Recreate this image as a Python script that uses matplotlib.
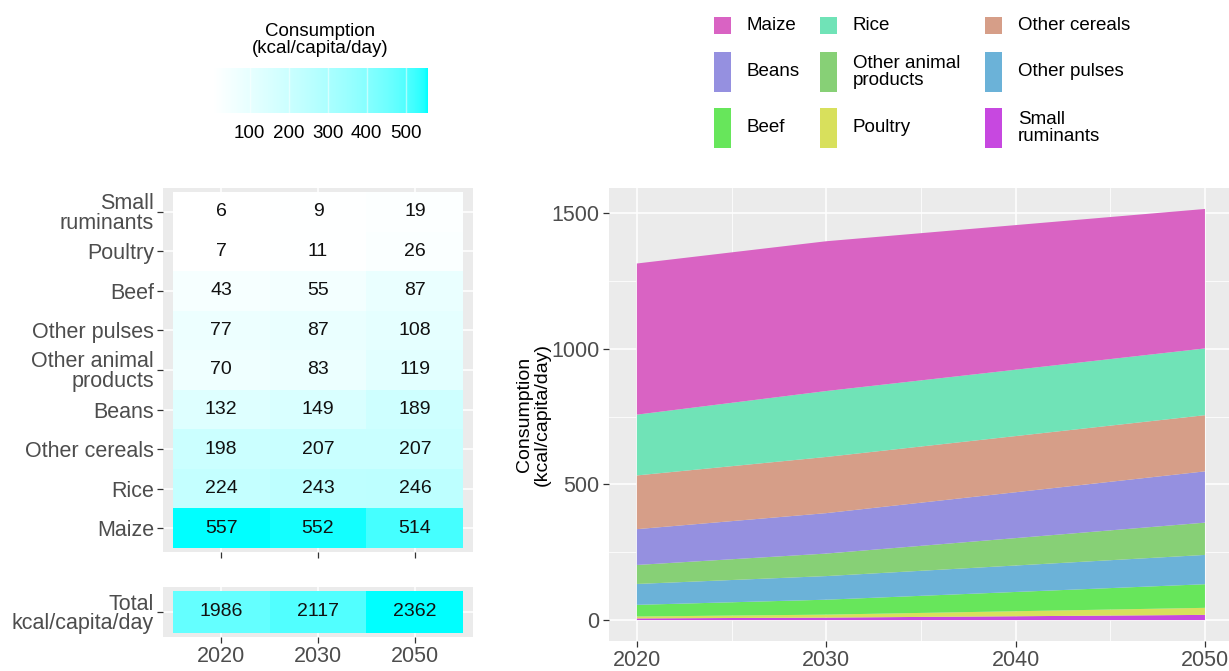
import numpy as np
import matplotlib
matplotlib.use("Agg")
import matplotlib.pyplot as plt
from matplotlib.colors import ListedColormap, Normalize, to_rgb
from matplotlib.cm import ScalarMappable
from matplotlib.patches import Rectangle

plt.rcParams["font.family"] = ["Liberation Sans", "DejaVu Sans"]

# ---- data -------------------------------------------------------------
years = [2020, 2030, 2050]
crops = ["Small\nruminants", "Poultry", "Beef", "Other pulses",
         "Other animal\nproducts", "Beans", "Other cereals", "Rice", "Maize"]
kcal_2020 = [6, 7, 43, 77, 70, 132, 198, 224, 557]
kcal_2030 = [9, 11, 55, 87, 83, 149, 207, 243, 552]
kcal_2050 = [19, 26, 87, 108, 119, 189, 207, 246, 514]
totals = [1986, 2117, 2362]

# stacked area: bottom -> top
area_names = ["Small ruminants", "Poultry", "Beef", "Other pulses",
              "Other animal products", "Beans", "Other cereals", "Rice", "Maize"]
area_colors = ["#C748E0", "#D8E05C", "#67E65B", "#6BB2D8",
               "#87D076", "#9590E0", "#D69E88", "#70E3B7", "#D963C3"]

# legend layout (row-major, 3 columns)
legend_labels = ["Maize", "Rice", "Other cereals",
                 "Beans", "Other animal\nproducts", "Other pulses",
                 "Beef", "Poultry", "Small\nruminants"]

W, H = 1229, 671
GREY_PANEL = "#EBEBEB"
TICK_TXT = "#4D4D4D"
TICK_COL = "#333333"
FS = 13.5        # legend / cell text
TICK_FS = 15.5   # axis tick labels

# ---- white -> cyan gradient, interpolated in Lab -----------------------
M = np.array([[0.4124, 0.3576, 0.1805],
              [0.2126, 0.7152, 0.0722],
              [0.0193, 0.1192, 0.9505]])
WHITE_PT = np.array([0.95047, 1.0, 1.08883])


def srgb_to_lab(rgb):
    c = np.asarray(rgb, float)
    lin = np.where(c <= 0.04045, c / 12.92, ((c + 0.055) / 1.055) ** 2.4)
    xyz = M @ lin / WHITE_PT
    f = np.where(xyz > 0.008856, np.cbrt(xyz), 7.787 * xyz + 16 / 116)
    return np.array([116 * f[1] - 16, 500 * (f[0] - f[1]), 200 * (f[1] - f[2])])


def lab_to_srgb(lab):
    L, a, b = lab
    fy = (L + 16) / 116
    f = np.array([fy + a / 500, fy, fy - b / 200])
    xyz = np.where(f ** 3 > 0.008856, f ** 3, (f - 16 / 116) / 7.787) * WHITE_PT
    lin = np.clip(np.linalg.inv(M) @ xyz, 0, 1)
    c = np.where(lin <= 0.0031308, 12.92 * lin, 1.055 * lin ** (1 / 2.4) - 0.055)
    return np.clip(c, 0, 1)


lo, hi = srgb_to_lab(to_rgb("white")), srgb_to_lab(to_rgb("cyan"))
cyan_cmap = ListedColormap([lab_to_srgb(lo + t * (hi - lo))
                            for t in np.linspace(0, 1, 256)])

fig = plt.figure(figsize=(W / 100, H / 100), dpi=100)


def px_axes(x0, y0, x1, y1):
    """axes from pixel box (top-left origin)"""
    return fig.add_axes([x0 / W, 1 - y1 / H, (x1 - x0) / W, (y1 - y0) / H])


def style_ticks(ax):
    ax.tick_params(colors=TICK_COL, labelcolor=TICK_TXT, labelsize=TICK_FS,
                   length=4.5, width=0.9, pad=2)
    for s in ax.spines.values():
        s.set_visible(False)


# ---- heatmap by crop ----------------------------------------------------
Z = np.column_stack([kcal_2020, kcal_2030, kcal_2050])
heat_norm = Normalize(Z.min(), Z.max())
ax_h = px_axes(163, 188, 473, 552)
ax_h.set_facecolor(GREY_PANEL)
ax_h.set_axisbelow(True)
ax_h.grid(color="white", lw=1.1)
ax_h.pcolormesh(np.arange(4) - 0.5, np.arange(len(crops) + 1) - 0.5, Z,
                cmap=cyan_cmap, norm=heat_norm)
for i in range(len(crops)):
    for j in range(len(years)):
        ax_h.text(j, i, str(Z[i, j]), ha="center", va="center",
                  fontsize=FS + 0.5, color="#111111")
ax_h.set_xlim(-0.6, 2.6)
ax_h.set_ylim(len(crops) - 0.4, -0.6)
ax_h.set_xticks(range(len(years)))
ax_h.set_xticklabels([])
ax_h.set_yticks(range(len(crops)))
ax_h.set_yticklabels(crops, linespacing=0.9)
style_ticks(ax_h)

# ---- totals row ---------------------------------------------------------
tot = np.array([totals])
ax_t = px_axes(163, 587, 473, 637)
ax_t.set_facecolor(GREY_PANEL)
ax_t.set_axisbelow(True)
ax_t.grid(color="white", lw=1.1)
ax_t.pcolormesh(np.arange(4) - 0.5, [-0.5, 0.5], tot,
                cmap=cyan_cmap, norm=Normalize(0, max(totals)))
for j, v in enumerate(totals):
    ax_t.text(j, 0, str(v), ha="center", va="center", fontsize=FS + 0.5,
              color="#111111")
ax_t.set_xlim(-0.6, 2.6)
ax_t.set_ylim(-0.6, 0.6)
ax_t.set_xticks(range(len(years)))
ax_t.set_xticklabels([str(y) for y in years])
ax_t.set_yticks([0])
ax_t.set_yticklabels(["Total\nkcal/capita/day"], linespacing=0.9)
style_ticks(ax_t)

# ---- colourbar legend -----------------------------------------------------
cax = px_axes(213, 68, 428, 113)
cb = fig.colorbar(ScalarMappable(norm=heat_norm, cmap=cyan_cmap), cax=cax,
                  orientation="horizontal")
cb.outline.set_visible(False)
cb.set_ticks([100, 200, 300, 400, 500])
cax.tick_params(length=0, labelsize=FS, labelcolor="black", pad=9)
for t in [100, 200, 300, 400, 500]:
    cax.axvline(t, color="white", lw=1, alpha=0.5)
fig.text(320 / W, 1 - 40 / H, "Consumption\n(kcal/capita/day)", ha="center",
         va="center", fontsize=FS, linespacing=1.05)

# ---- stacked area -------------------------------------------------------
by_year = {n: (a, b, c) for n, a, b, c in
           zip([c.replace("\n", " ") for c in crops], kcal_2020, kcal_2030, kcal_2050)}
stack = [by_year[n] for n in area_names]
ax_a = px_axes(608.5, 188.4, W, 640.6)
ax_a.set_facecolor(GREY_PANEL)
ax_a.set_axisbelow(True)
ax_a.stackplot(years, stack, colors=area_colors, lw=0)
ax_a.set_xlim(2018.5, 2051.27)
ax_a.set_ylim(-75.75, 1590.75)
ax_a.set_xticks([2020, 2030, 2040, 2050])
ax_a.set_xticks([2025, 2035, 2045], minor=True)
ax_a.set_yticks([0, 500, 1000, 1500])
ax_a.set_yticks([250, 750, 1250], minor=True)
ax_a.grid(which="major", color="white", lw=1.1)
ax_a.grid(which="minor", color="white", lw=0.55)
style_ticks(ax_a)
ax_a.tick_params(which="minor", length=0)
fig.text(533 / W, 1 - 414 / H, "Consumption\n(kcal/capita/day)", rotation=90,
         ha="center", va="center", fontsize=FS + 0.5, linespacing=1.05)

# ---- area legend (drawn in pixel space) -------------------------------------
ax_l = fig.add_axes([0, 0, 1, 1])
ax_l.set_xlim(0, W)
ax_l.set_ylim(H, 0)
ax_l.axis("off")
color_of = dict(zip(area_names, area_colors))
col_text_x = [747, 853, 1018]
row_y = [25, 72, 128]
row_key_h = [17, 40, 40]
for k, lab in enumerate(legend_labels):
    r, c = divmod(k, 3)
    name = lab.replace("\n", " ")
    kh = row_key_h[r]
    ax_l.add_patch(Rectangle((col_text_x[c] - 33, row_y[r] - kh / 2), 17, kh,
                             color=color_of[name], lw=0))
    ax_l.text(col_text_x[c], row_y[r], lab, ha="left", va="center",
              fontsize=FS, linespacing=0.95)

fig.savefig("out.png", dpi=100)
